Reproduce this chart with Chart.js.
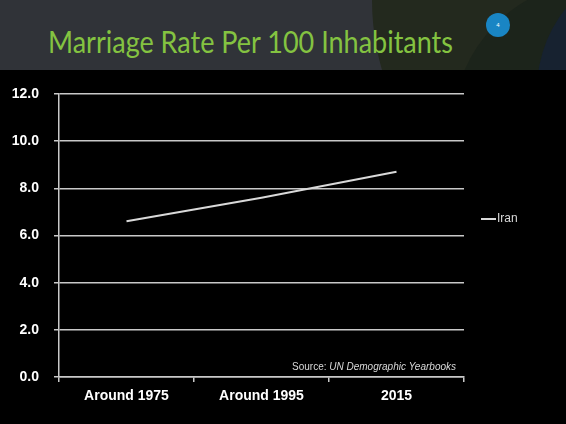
<!DOCTYPE html>
<html>
<head>
<meta charset="utf-8">
<script src="https://cdn.jsdelivr.net/npm/chart.js@4/dist/chart.umd.min.js"></script>
<style>
  html, body { margin:0; padding:0; background:#000; }
  body { width:566px; height:424px; position:relative; overflow:hidden; }
  #header { position:absolute; left:0; top:0; width:566px; height:70px; background:#303338; overflow:hidden; }
  .circ { position:absolute; border-radius:50%; }
  #title { position:absolute; left:48px; top:26px; font-family:Lato, "Open Sans", sans-serif; font-size:31px; color:#84c341; white-space:nowrap; transform-origin:0 0; line-height:1; }
  #num { position:absolute; left:486px; top:13px; width:24px; height:24px; border-radius:50%; background:#1985c4; color:#fff; font:6px "Liberation Sans", Arial, sans-serif; text-align:center; line-height:24px; }
  #wrap { position:absolute; left:0; top:70px; width:566px; height:354px; }
</style>
</head>
<body>
<div id="header">
  <div class="circ" style="left:372px;top:-250px;width:500px;height:500px;background:#23291e;"></div>
  <div class="circ" style="left:452px;top:-20px;width:300px;height:300px;background:#1c241b;"></div>
  <div class="circ" style="left:537px;top:-40px;width:260px;height:260px;background:#172230;"></div>
  <div id="title">Marriage Rate Per 100 Inhabitants</div>
  <div id="num">4</div>
</div>
<div id="wrap"><canvas id="c" width="566" height="354"></canvas></div>
<script>
const categories = ["Around 1975", "Around 1995", "2015"];
const seriesName = "Iran";
const iranValues = [6.6, 7.6, 8.7];
const yTicks = [0, 2, 4, 6, 8, 10, 12];
const sourcePrefix = "Source: ";
const sourceText = "UN Demographic Yearbooks";

// fit title width
(function(){
  const t = document.getElementById('title');
  const w = t.getBoundingClientRect().width;
  const target = 405;
  t.style.transform = 'scaleX(' + (target / w) + ')';
})();

const GRID = '#c9c9c9';
const TEXT = '#ffffff';

const extras = {
  id: 'extras',
  afterDraw(chart) {
    const ctx = chart.ctx;
    const a = chart.chartArea;
    ctx.save();
    // source note
    ctx.fillStyle = '#d9d9d9';
    ctx.textBaseline = 'alphabetic';
    const f1 = '10px "Liberation Sans", Arial, sans-serif';
    const f2 = 'italic 10px "Liberation Sans", Arial, sans-serif';
    ctx.font = f2;
    const w2 = ctx.measureText(sourceText).width;
    ctx.font = f1;
    const w1 = ctx.measureText(sourcePrefix).width;
    const xEnd = a.right - 8;
    const yb = a.bottom - 7;
    ctx.fillText(sourcePrefix, xEnd - w2 - w1, yb);
    ctx.font = f2;
    ctx.fillText(sourceText, xEnd - w2, yb);
    // legend
    const ds = chart.data.datasets[0];
    const ly = a.top + 125;
    ctx.strokeStyle = ds.borderColor;
    ctx.lineWidth = 2;
    ctx.beginPath();
    ctx.moveTo(a.right + 17, ly);
    ctx.lineTo(a.right + 32, ly);
    ctx.stroke();
    ctx.fillStyle = '#d9d9d9';
    ctx.font = '12px "Liberation Sans", Arial, sans-serif';
    ctx.textBaseline = 'middle';
    ctx.fillText(ds.label, a.right + 33, ly);
    ctx.restore();
  }
};

new Chart(document.getElementById('c'), {
  type: 'line',
  data: {
    labels: categories,
    datasets: [{
      label: seriesName,
      data: iranValues,
      borderColor: '#d9d9d9',
      borderWidth: 2,
      pointRadius: 0,
      tension: 0,
      fill: false
    }]
  },
  options: {
    responsive: false,
    animation: false,
    layout: { padding: { top: 24, right: 102, left: 0, bottom: 0 } },
    plugins: { legend: { display: false }, tooltip: { enabled: false } },
    scales: {
      x: {
        offset: true,
        grid: {
          offset: true,
          drawOnChartArea: true,
          color: (c) => (c.index === categories.length ? GRID : 'rgba(0,0,0,0)'),
          tickColor: GRID,
          tickLength: 5,
          lineWidth: 1.5
        },
        border: { display: true, color: GRID, width: 1.5 },
        ticks: { color: TEXT, font: { family: '"Liberation Sans", Arial, sans-serif', size: 14, weight: 'bold' }, padding: 6, maxRotation: 0 },
        afterFit(s) { s.height = 47; }
      },
      y: {
        min: 0, max: 12,
        afterBuildTicks(s) { s.ticks = yTicks.map(v => ({ value: v })); },
        grid: { color: GRID, tickColor: GRID, tickLength: 5, lineWidth: 1.5 },
        border: { display: true, color: GRID, width: 1.5 },
        ticks: {
          color: TEXT,
          font: { family: '"Liberation Sans", Arial, sans-serif', size: 14, weight: 'bold' },
          padding: 15,
          callback: (v) => Number(v).toFixed(1)
        },
        afterFit(s) { s.width = 59; }
      }
    }
  },
  plugins: [extras]
});
</script>
</body>
</html>
